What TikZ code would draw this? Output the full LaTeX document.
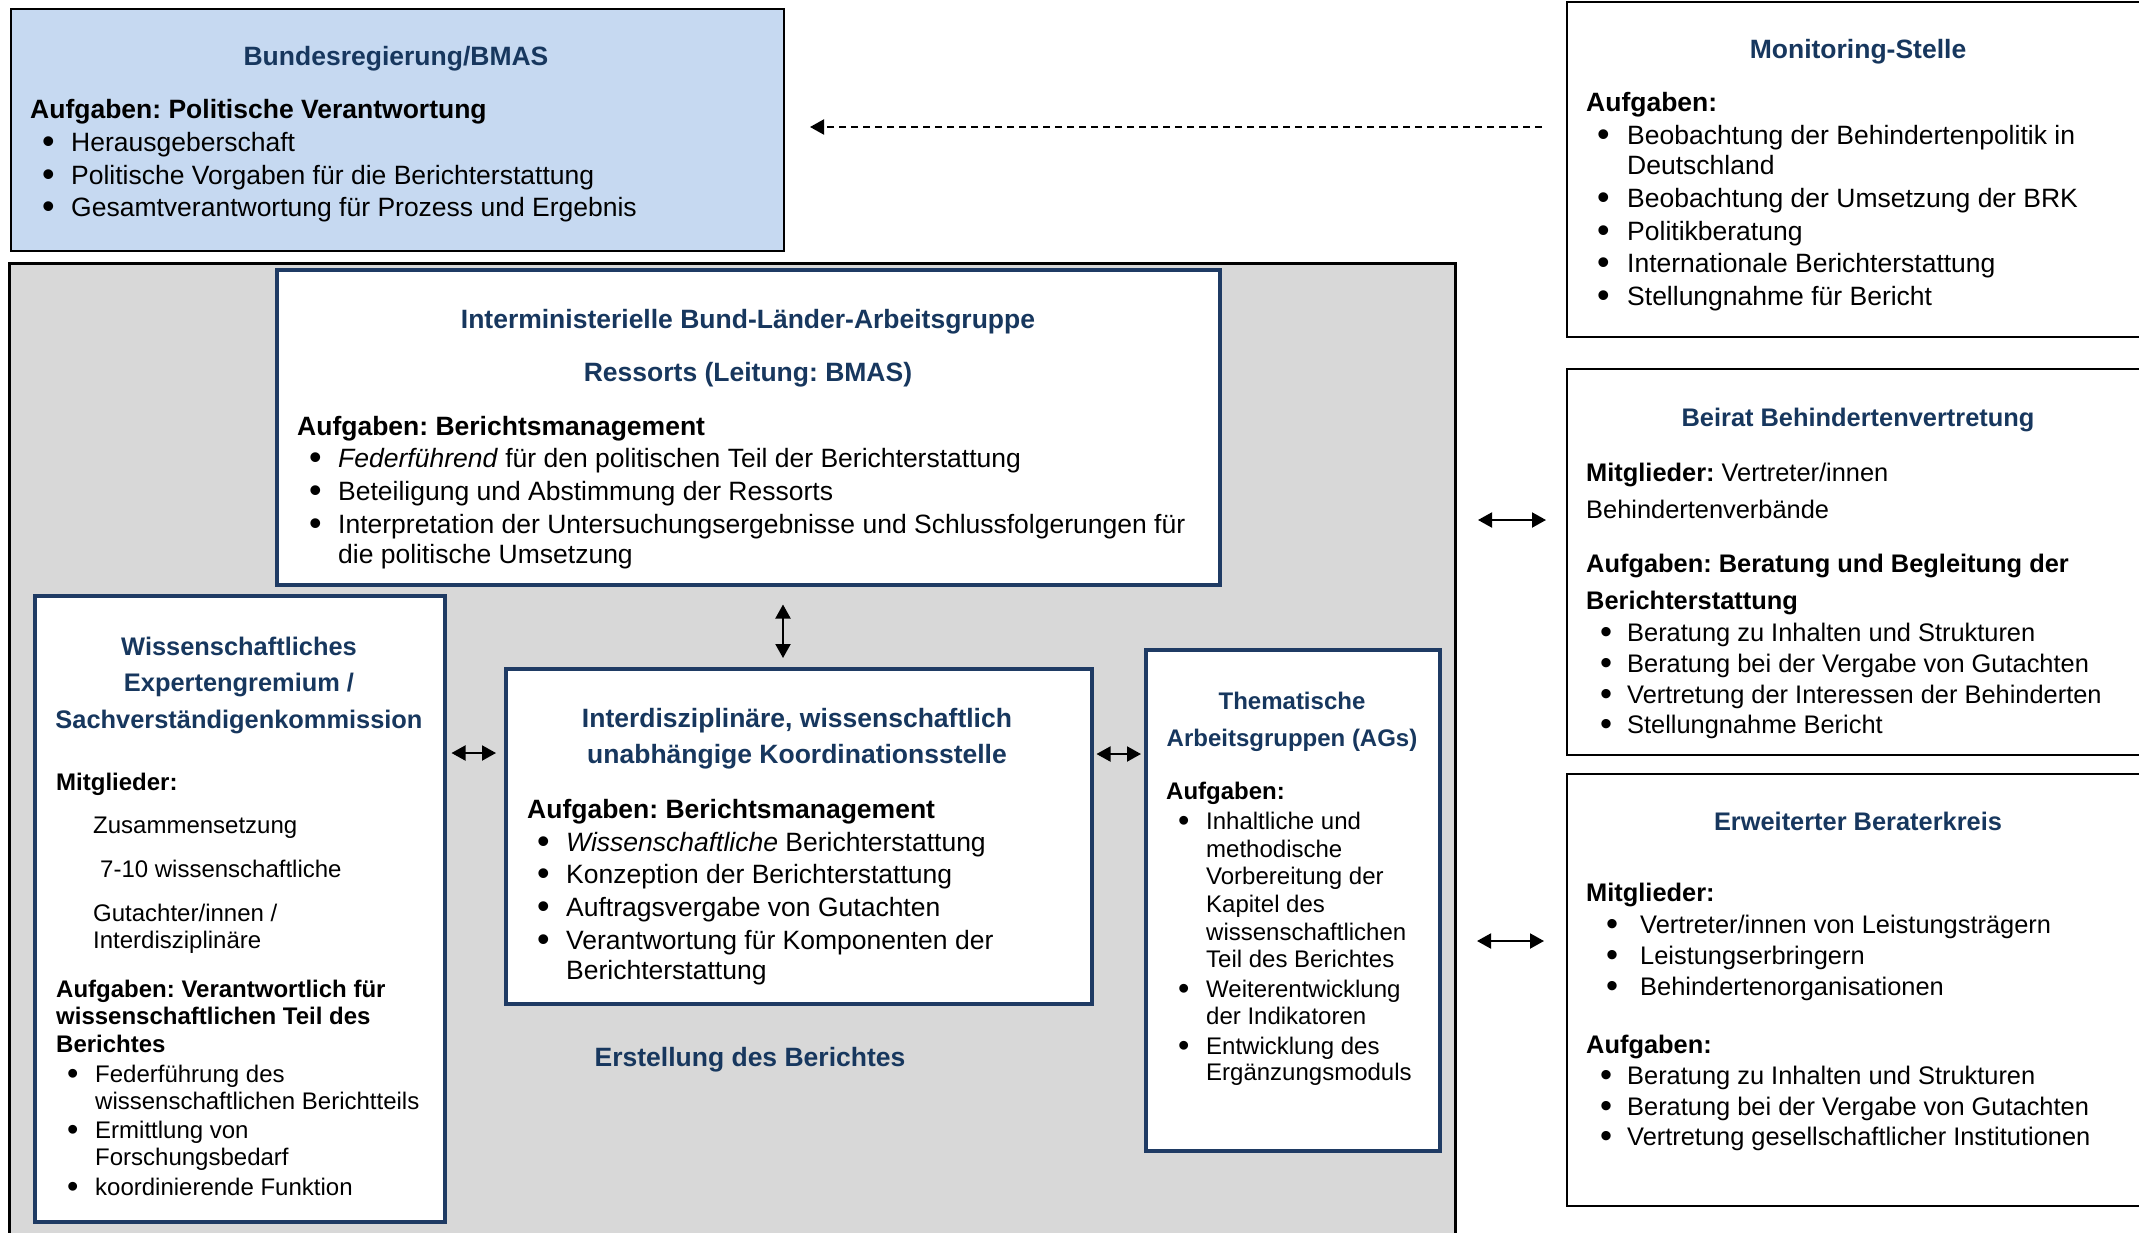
\documentclass[tikz,border=0pt]{standalone}
\usepackage{fontspec}
\usepackage{graphicx}
\setmainfont{Liberation Sans}
\usetikzlibrary{arrows.meta}
\frenchspacing
\definecolor{navy}{HTML}{1F3B64}
\definecolor{navyt}{HTML}{17375E}
\definecolor{lblue}{HTML}{C6D9F1}
\definecolor{lgrey}{HTML}{D8D8D8}
\newcommand\fbig{\fontsize{26.5}{30}\selectfont}
\newcommand\fmid{\fontsize{25.4}{29}\selectfont}
\newcommand\fsml{\fontsize{24}{27.5}\selectfont}
\newcommand\fwt{\fontsize{25.4}{29}\selectfont}
\newcommand\bult{\smash{\raisebox{-0.09em}{\scalebox{1.35}{\textbullet}}}}
\newcommand\bul[6]{\node[#1] (#2) at (#3,#4) {\makebox[#5pt][l]{\bult}#6};}
\begin{document}
\begin{tikzpicture}[x=1pt,y=-1pt,
  outerbox/.style={draw=black,line width=2pt,inner sep=0pt,anchor=north west},
  innerbox/.style={draw=navy,fill=white,line width=3.5pt,inner sep=0pt,anchor=north west},
  ttl/.style={inner sep=0pt,anchor=base,font=\fbig\bfseries,text=navyt},
  ttlm/.style={inner sep=0pt,anchor=base,font=\fmid\bfseries,text=navyt},
  ttls/.style={inner sep=0pt,anchor=base,font=\fsml\bfseries,text=navyt},
  ttlw/.style={inner sep=0pt,anchor=base,font=\fwt\bfseries,text=navyt},
  tl/.style={inner sep=0pt,anchor=base west,font=\fbig},
  tlb/.style={inner sep=0pt,anchor=base west,font=\fbig\bfseries},
  tm/.style={inner sep=0pt,anchor=base west,font=\fmid},
  tmb/.style={inner sep=0pt,anchor=base west,font=\fmid\bfseries},
  ts/.style={inner sep=0pt,anchor=base west,font=\fsml},
  tsb/.style={inner sep=0pt,anchor=base west,font=\fsml\bfseries},
  dbl/.style={{Triangle[length=14pt,width=15pt]}-{Triangle[length=14pt,width=15pt]},line width=2pt},
  dsh/.style={-{Triangle[length=14pt,width=15pt]},line width=2pt,dash pattern=on 7pt off 5pt}]
\useasboundingbox (0,0) rectangle (2139,1232);
\clip (0,0) rectangle (2139,1232);
\fill[white] (0,0) rectangle (2139,1232);

% ---------------- boxes
\node[outerbox,fill=lblue,minimum width=773pt,minimum height=242pt] (bmas) at (10,8) {};
\node[outerbox,minimum width=590pt,minimum height=335pt] (mon) at (1566,1) {};
\node[draw=black,fill=lgrey,line width=3pt,inner sep=0pt,anchor=north west,minimum width=1446pt,minimum height=990pt] (grey) at (8,262) {};
\node[innerbox,minimum width=943pt,minimum height=315pt] (imag) at (275,268) {};
\node[innerbox,minimum width=410pt,minimum height=626pt] (wiss) at (33,594) {};
\node[innerbox,minimum width=586pt,minimum height=335pt] (koord) at (504,667) {};
\node[innerbox,minimum width=294pt,minimum height=501pt] (them) at (1144,648) {};
\node[outerbox,minimum width=590pt,minimum height=386pt] (beirat) at (1566,368) {};
\node[outerbox,minimum width=590pt,minimum height=432pt] (erw) at (1566,773) {};

% ---------------- BMAS
\node[ttl] (bm-t) at (396,65) {Bundesregierung/BMAS};
\node[tlb] (bm-a) at (30,118) {Aufgaben: Politische Verantwortung};
\bul{tl}{bm-1}{42}{151}{29}{Herausgeberschaft}
\bul{tl}{bm-2}{42}{184}{29}{Politische Vorgaben für die Berichterstattung}
\bul{tl}{bm-3}{42}{216}{29}{Gesamtverantwortung für Prozess und Ergebnis}

% ---------------- Monitoring
\node[ttl] (mo-t) at (1858,58) {Monitoring-Stelle};
\node[tlb] (mo-a) at (1586,111) {Aufgaben:};
\bul{tl}{mo-1}{1597}{144}{30}{Beobachtung der Behindertenpolitik in}
\node[tl] (mo-1b) at (1627,174) {Deutschland};
\bul{tl}{mo-2}{1597}{207}{30}{Beobachtung der Umsetzung der BRK}
\bul{tl}{mo-3}{1597}{240}{30}{Politikberatung}
\bul{tl}{mo-4}{1597}{272}{30}{Internationale Berichterstattung}
\bul{tl}{mo-5}{1597}{305}{30}{Stellungnahme für Bericht}

% ---------------- Beirat
\node[ttlm] (be-t) at (1858,426) {Beirat Behindertenvertretung};
\node[tm] (be-m) at (1586,481) {\textbf{Mitglieder:} Vertreter/innen};
\node[tm] (be-m2) at (1586,518) {Behindertenverbände};
\node[tmb] (be-a) at (1586,572) {Aufgaben: Beratung und Begleitung der};
\node[tmb] (be-a2) at (1586,609) {Berichterstattung};
\bul{tm}{be-1}{1600}{641}{27}{Beratung zu Inhalten und Strukturen}
\bul{tm}{be-2}{1600}{672}{27}{Beratung bei der Vergabe von Gutachten}
\bul{tm}{be-3}{1600}{703}{27}{Vertretung der Interessen der Behinderten}
\bul{tm}{be-4}{1600}{733}{27}{Stellungnahme Bericht}

% ---------------- Erweiterter Beraterkreis
\node[ttlm] (er-t) at (1858,830) {Erweiterter Beraterkreis};
\node[tmb] (er-m) at (1586,901) {Mitglieder:};
\bul{tm}{er-1}{1606}{933}{34}{Vertreter/innen von Leistungsträgern}
\bul{tm}{er-2}{1606}{964}{34}{Leistungserbringern}
\bul{tm}{er-3}{1606}{995}{34}{Behindertenorganisationen}
\node[tmb] (er-a) at (1586,1053) {Aufgaben:};
\bul{tm}{er-4}{1600}{1084}{27}{Beratung zu Inhalten und Strukturen}
\bul{tm}{er-5}{1600}{1115}{27}{Beratung bei der Vergabe von Gutachten}
\bul{tm}{er-6}{1600}{1145}{27}{Vertretung gesellschaftlicher Institutionen}

% ---------------- Interministerielle AG
\node[ttl] (im-t1) at (748,328) {Interministerielle Bund-Länder-Arbeitsgruppe};
\node[ttl] (im-t2) at (748,381) {Ressorts (Leitung: BMAS)};
\node[tlb] (im-a) at (297,435) {Aufgaben: Berichtsmanagement};
\bul{tl}{im-1}{309}{467}{29}{\textit{Federführend} für den politischen Teil der Berichterstattung}
\bul{tl}{im-2}{309}{500}{29}{Beteiligung und Abstimmung der Ressorts}
\bul{tl}{im-3}{309}{533}{29}{Interpretation der Untersuchungsergebnisse und Schlussfolgerungen für}
\node[tl] (im-3b) at (338,563) {die politische Umsetzung};

% ---------------- Koordinationsstelle
\node[ttl] (ko-t1) at (797,727) {Interdisziplinäre, wissenschaftlich};
\node[ttl] (ko-t2) at (797,763) {unabhängige Koordinationsstelle};
\node[tlb] (ko-a) at (527,818) {Aufgaben: Berichtsmanagement};
\bul{tl}{ko-1}{537}{851}{29}{\textit{Wissenschaftliche} Berichterstattung}
\bul{tl}{ko-2}{537}{883}{29}{Konzeption der Berichterstattung}
\bul{tl}{ko-3}{537}{916}{29}{Auftragsvergabe von Gutachten}
\bul{tl}{ko-4}{537}{949}{29}{Verantwortung für Komponenten der}
\node[tl] (ko-4b) at (566,979) {Berichterstattung};

% ---------------- Thematische AGs
\node[ttls] (th-t1) at (1292,709) {Thematische};
\node[ttls] (th-t2) at (1292,746) {Arbeitsgruppen (AGs)};
\node[tsb] (th-a) at (1166,799) {Aufgaben:};
\bul{ts}{th-1}{1178}{829}{28}{Inhaltliche und}
\node[ts] (th-1b) at (1206,857) {methodische};
\node[ts] (th-1c) at (1206,884) {Vorbereitung der};
\node[ts] (th-1d) at (1206,912) {Kapitel des};
\node[ts] (th-1e) at (1206,940) {wissenschaftlichen};
\node[ts] (th-1f) at (1206,967) {Teil des Berichtes};
\bul{ts}{th-2}{1178}{997}{28}{Weiterentwicklung}
\node[ts] (th-2b) at (1206,1024) {der Indikatoren};
\bul{ts}{th-3}{1178}{1054}{28}{Entwicklung des}
\node[ts] (th-3b) at (1206,1080) {Ergänzungsmoduls};

% ---------------- Wissenschaftliches Expertengremium
\node[ttlw] (wi-t1) at (239,655) {Wissenschaftliches};
\node[ttlw] (wi-t2) at (239,691) {Expertengremium /};
\node[ttlw] (wi-t3) at (239,728) {Sachverständigenkommission};
\node[tsb] (wi-m) at (56,790) {Mitglieder:};
\node[ts] (wi-m1) at (93,833) {Zusammensetzung};
\node[ts] (wi-m2) at (100,877) {7-10 wissenschaftliche};
\node[ts] (wi-m3) at (93,921) {Gutachter/innen /};
\node[ts] (wi-m4) at (93,948) {Interdisziplinäre};
\node[tsb] (wi-a1) at (56,997) {Aufgaben: Verantwortlich für};
\node[tsb] (wi-a2) at (56,1024) {wissenschaftlichen Teil des};
\node[tsb] (wi-a3) at (56,1052) {Berichtes};
\bul{ts}{wi-1}{67}{1082}{28}{Federführung des}
\node[ts] (wi-1b) at (95,1109) {wissenschaftlichen Berichtteils};
\bul{ts}{wi-2}{67}{1138}{28}{Ermittlung von}
\node[ts] (wi-2b) at (95,1165) {Forschungsbedarf};
\bul{ts}{wi-3}{67}{1195}{28}{koordinierende Funktion}

% ---------------- caption inside grey box
\node[ttl] (erst) at (750,1066) {Erstellung des Berichtes};

% ---------------- connectors
\draw[dsh,shorten <=24pt,shorten >=25pt] (mon.west |- 0,127) -- (bmas.east |- 0,127);
\draw[dbl,shorten <=18pt,shorten >=9pt] (imag.south -| 783,0) -- (koord.north -| 783,0);
\draw[dbl,shorten <=5pt,shorten >=8pt] (wiss.east |- 0,753) -- (koord.west |- 0,753);
\draw[dbl,shorten <=3pt,shorten >=3pt] (koord.east |- 0,754) -- (them.west |- 0,754);
\draw[dbl,shorten <=21pt,shorten >=20pt] (grey.east |- 0,520) -- (beirat.west |- 0,520);
\draw[dbl,shorten <=20pt,shorten >=22pt] (grey.east |- 0,941) -- (erw.west |- 0,941);
\end{tikzpicture}
\end{document}
